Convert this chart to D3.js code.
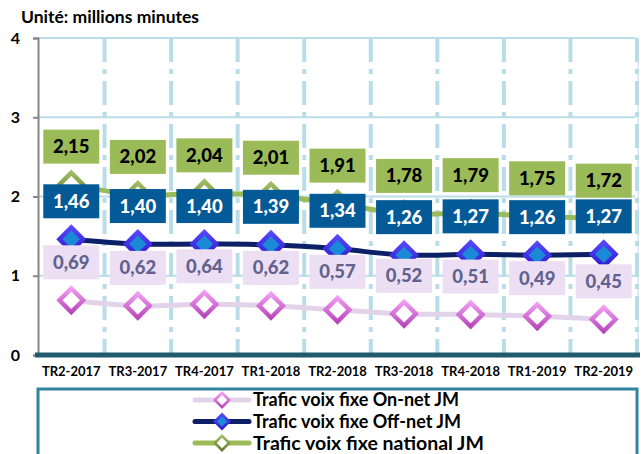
<!DOCTYPE html>
<html>
<head>
<meta charset="utf-8">
<script src="https://cdn.jsdelivr.net/npm/d3@7"></script>
<style>
  body { margin: 0; background: #fff; }
  svg { display: block; font-family: Lato, "Open Sans", sans-serif; font-weight: bold; }
</style>
</head>
<body>
<script>
const categories = ['TR2-2017', 'TR3-2017', 'TR4-2017', 'TR1-2018', 'TR2-2018', 'TR3-2018', 'TR4-2018', 'TR1-2019', 'TR2-2019'];
const national = [2.15, 2.02, 2.04, 2.01, 1.91, 1.78, 1.79, 1.75, 1.72];
const offnet = [1.46, 1.40, 1.40, 1.39, 1.34, 1.26, 1.27, 1.26, 1.27];
const onnet = [0.69, 0.62, 0.64, 0.62, 0.57, 0.52, 0.51, 0.49, 0.45];
const y_ticks = [0, 1, 2, 3, 4];

const series = [
    { key: 'onnet', name: 'Trafic voix fixe On-net JM', values: onnet, line: '#e3d3ea', box: '#ecdff3', text: '#62628f',
      outer: ['#f7a6f7', '#b23db5'], inner: '#ffffff', fs: 18 },
    { key: 'offnet', name: 'Trafic voix fixe Off-net JM', values: offnet, line: '#0d1f66', box: '#045a97', text: '#ffffff',
      outer: ['#5a4cff', '#2a16c8'], inner: '#1b8ad6', fs: 18 },
    { key: 'national', name: 'Trafic voix fixe national JM', values: national, line: '#9bbb59', box: '#9bbb59', text: '#000000',
      outer: ['#a6c46a', '#5d7a2a'], inner: '#ffffff', fs: 19.5 }
];

const width = 644, height = 454;
const m_left = 38, m_right = 637, m_top = 38, m_bottom = 355;

const svg = d3.select('body').append('svg')
    .attr('width', width)
    .attr('height', height);

const defs = svg.append('defs');
series.forEach((s) => {
    const g = defs.append('linearGradient')
        .attr('id', 'grad-' + s.key)
        .attr('x1', 0).attr('y1', 0).attr('x2', 0).attr('y2', 1);
    g.append('stop').attr('offset', '0%').attr('stop-color', s.outer[0]);
    g.append('stop').attr('offset', '100%').attr('stop-color', s.outer[1]);
});

const x = d3.scaleBand().domain(categories).range([m_left, m_right]);
const y = d3.scaleLinear().domain([0, 4]).range([m_bottom, m_top]);

// title
svg.append('text')
    .attr('x', 21).attr('y', 23)
    .attr('font-size', 17.5)
    .text('Unité: millions minutes');

// horizontal grid
svg.append('g').selectAll('line')
    .data(y_ticks.filter((d) => d > 0))
    .enter().append('line')
        .attr('x1', m_left).attr('x2', m_right - 2)
        .attr('y1', (d) => y(d)).attr('y2', (d) => y(d))
        .attr('stroke', '#b9dde8')
        .attr('stroke-width', 2);

// vertical dashed grid at band boundaries
svg.append('g').selectAll('line')
    .data(categories)
    .enter().append('line')
        .attr('x1', (d) => x(d) + x.bandwidth()).attr('x2', (d) => x(d) + x.bandwidth())
        .attr('y1', m_top).attr('y2', m_bottom)
        .attr('stroke', '#b9dde8')
        .attr('stroke-width', 4)
        .attr('stroke-dasharray', '24,7,5,7');

svg.append('line')
    .attr('x1', m_right + 1).attr('x2', m_right + 1)
    .attr('y1', m_top).attr('y2', m_bottom)
    .attr('stroke', '#b9dde8').attr('stroke-width', 1);

// y axis
const yAxis = svg.append('g')
    .attr('transform', `translate(${m_left},0)`)
    .call(d3.axisLeft(y).tickValues(y_ticks).tickSize(5).tickFormat(d3.format('d')));
yAxis.select('.domain').attr('stroke', '#868686').attr('stroke-width', 2);
yAxis.selectAll('.tick line').attr('stroke', '#868686').attr('stroke-width', 2);
yAxis.selectAll('.tick text')
    .attr('x', -18)
    .attr('font-size', 16)
    .attr('font-family', 'Lato, sans-serif')
    .attr('font-weight', 'bold')
    .attr('fill', '#000');

// x axis
const xAxis = svg.append('g')
    .attr('transform', `translate(0,${m_bottom})`)
    .call(d3.axisBottom(x).tickSize(0).tickPadding(12));
xAxis.select('.domain').remove();
xAxis.selectAll('.tick text')
    .attr('font-size', 13)
    .attr('font-family', 'Lato, sans-serif')
    .attr('font-weight', 'bold')
    .attr('fill', '#000');
svg.append('line')
    .attr('x1', m_left - 3).attr('x2', m_right + 3)
    .attr('y1', m_bottom).attr('y2', m_bottom)
    .attr('stroke', '#1f5b6c')
    .attr('stroke-width', 5);

const cx = (i) => x(categories[i]) + x.bandwidth() / 2;

const line = d3.line()
    .x((d, i) => cx(i))
    .y((d) => y(d))
    .curve(d3.curveCatmullRom.alpha(0.5));

function diamond(g, s, r) {
    g.append('path')
        .attr('d', `M0,${-r}L${r},0L0,${r}L${-r},0Z`)
        .attr('fill', `url(#grad-${s.key})`);
    const ri = r * 0.58;
    g.append('path')
        .attr('d', `M0,${-ri}L${ri},0L0,${ri}L${-ri},0Z`)
        .attr('fill', s.inner);
}

// lines, markers, labels
series.forEach((s) => {
    svg.append('path')
        .datum(s.values)
        .attr('d', line)
        .attr('fill', 'none')
        .attr('stroke', s.line)
        .attr('stroke-width', 5);
});

series.forEach((s) => {
    const m = svg.append('g').selectAll('g')
        .data(s.values)
        .enter().append('g')
            .attr('transform', (d, i) => `translate(${cx(i)},${y(d)})`);
    m.each(function () { diamond(d3.select(this), s, 15); });
});

series.forEach((s) => {
    const lab = svg.append('g').selectAll('g')
        .data(s.values)
        .enter().append('g')
            .attr('transform', (d, i) => `translate(${cx(i)},${y(d) - 55})`);
    lab.append('rect')
        .attr('x', -28).attr('y', 0)
        .attr('width', 56).attr('height', 34)
        .attr('fill', s.box);
    lab.append('text')
        .attr('x', 0).attr('y', 23.5)
        .attr('text-anchor', 'middle')
        .attr('font-size', 18.5)
        .attr('font-weight', 900)
        .attr('fill', s.text)
        .text((d) => d.toFixed(2).replace('.', ','));
});

// legend
svg.append('rect')
    .attr('x', m_left).attr('y', 389)
    .attr('width', m_right - m_left).attr('height', 80)
    .attr('fill', 'none')
    .attr('stroke', '#31859c')
    .attr('stroke-width', 3);

const leg = svg.append('g').selectAll('g')
    .data(series)
    .enter().append('g')
        .attr('transform', (d, i) => `translate(222,${400 + i * 21.5})`);
leg.append('line')
    .attr('x1', -27).attr('x2', 27)
    .attr('stroke', (d) => d.line)
    .attr('stroke-width', 5)
    .attr('stroke-linecap', 'round');
leg.each(function (d) { diamond(d3.select(this), d, 9); });
leg.append('text')
    .attr('x', 31).attr('y', (d) => d.fs * 0.35)
    .attr('font-size', (d) => d.fs)
    .attr('fill', '#000')
    .text((d) => d.name);
</script>
</body>
</html>
